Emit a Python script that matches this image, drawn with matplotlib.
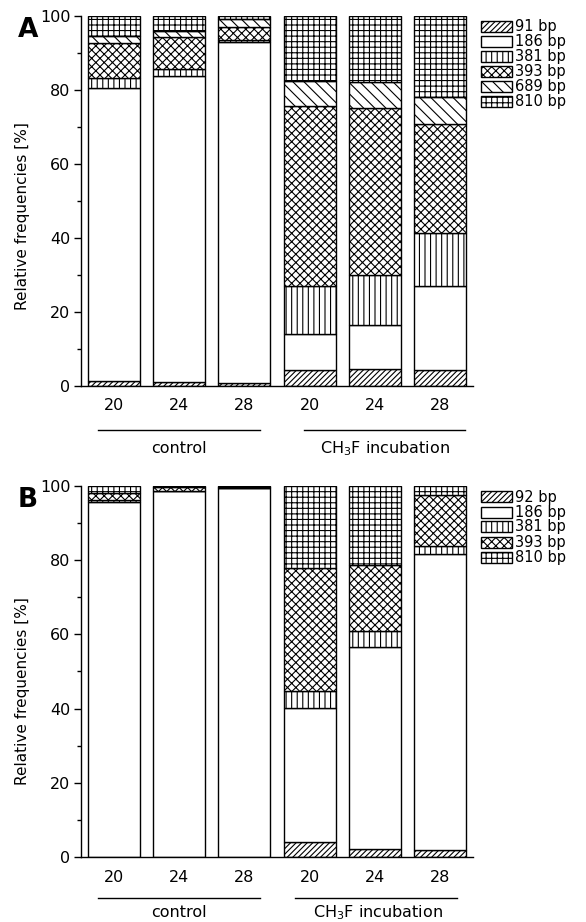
import matplotlib
matplotlib.use("Agg")
import matplotlib.pyplot as plt
from matplotlib.patches import Rectangle
from matplotlib.ticker import MultipleLocator
import numpy as np

plt.rcParams['font.family'] = ['DejaVu Sans']
plt.rcParams['mathtext.default'] = 'regular'
plt.rcParams['hatch.linewidth'] = 0.8

# ---- data ----
day_labels = ['20', '24', '28', '20', '24', '28']
group_labels = ['control', 'CH$_3$F incubation']

# Panel A fragment sizes
a_labels = ['91 bp', '186 bp', '381 bp', '393 bp', '689 bp', '810 bp']
a_91 = [1.3, 1.2, 0.7, 4.3, 4.5, 4.3]
a_186 = [79.3, 82.6, 92.3, 9.8, 11.9, 22.7]
a_381 = [2.5, 1.7, 0.4, 12.9, 13.7, 14.4]
a_393 = [9.4, 8.7, 3.6, 48.7, 44.9, 29.3]
a_689 = [2.0, 1.7, 2.0, 6.7, 7.2, 7.4]
a_810 = [5.5, 4.1, 1.0, 17.6, 17.8, 21.9]

# Panel B fragment sizes
b_labels = ['92 bp', '186 bp', '381 bp', '393 bp', '810 bp']
b_92 = [0.0, 0.0, 0.0, 4.0, 2.2, 1.9]
b_186 = [95.6, 98.7, 99.3, 36.2, 54.5, 79.7]
b_381 = [0.6, 0.0, 0.0, 4.6, 4.2, 2.2]
b_393 = [1.9, 1.0, 0.4, 33.0, 17.8, 13.7]
b_810 = [1.9, 0.3, 0.3, 22.2, 21.3, 2.5]

hatch_91 = '//////'
hatch_186 = ''
hatch_381 = '|||'
hatch_393 = 'xxxx'
hatch_689 = '\\\\\\'
hatch_810 = '+++'

a_series = [a_91, a_186, a_381, a_393, a_689, a_810]
a_hatches = [hatch_91, hatch_186, hatch_381, hatch_393, hatch_689, hatch_810]
b_series = [b_92, b_186, b_381, b_393, b_810]
b_hatches = [hatch_91, hatch_186, hatch_381, hatch_393, hatch_810]

W, H = 586, 922
fig = plt.figure(figsize=(W / 100, H / 100), dpi=100)


def fx(px):
    return px / W


def fy(py):
    return 1 - py / H


def draw_panel(ax, series, hatches):
    x = np.arange(len(day_labels))
    bottom = np.zeros(len(day_labels))
    for vals, h in zip(series, hatches):
        vals = np.asarray(vals)
        ax.bar(x, vals, width=0.8, bottom=bottom, color='white',
               edgecolor='black', linewidth=1.0, hatch=h)
        bottom += vals
    ax.set_xlim(-0.5, 5.5)
    ax.set_ylim(0, 100)
    ax.set_xticks(x)
    ax.set_xticklabels(day_labels, fontsize=11.5)
    ax.tick_params(axis='x', length=0, pad=9)
    ax.set_yticks(np.arange(0, 101, 20))
    ax.yaxis.set_minor_locator(MultipleLocator(10))
    ax.tick_params(axis='y', which='major', length=5, width=1.0, labelsize=11.5, pad=2.5)
    ax.tick_params(axis='y', which='minor', length=3, width=1.0)
    for s in ['top', 'right']:
        ax.spines[s].set_visible(False)
    for s in ['left', 'bottom']:
        ax.spines[s].set_linewidth(1.0)


def group_marks(ax, spans, centers, line_y, text_y):
    tr = ax.get_xaxis_transform()
    for (x0, x1), xc, lab in zip(spans, centers, group_labels):
        ax.plot([x0, x1], [line_y, line_y], color='black', lw=1.0,
                transform=tr, clip_on=False)
        ax.text(xc, text_y, lab, transform=tr, ha='center', va='center',
                fontsize=11.5)


def manual_legend(labels, hatches, top_center, step):
    for i, (lab, h) in enumerate(zip(labels, hatches)):
        cy = top_center + i * step
        r = Rectangle((fx(481), fy(cy + 5.5)), fx(512) - fx(481),
                      fy(cy - 5.5) - fy(cy + 5.5), transform=fig.transFigure,
                      facecolor='white', edgecolor='black', linewidth=1.0,
                      hatch=h)
        fig.add_artist(r)
        fig.text(fx(515), fy(cy), lab, ha='left', va='center', fontsize=10.5)


# Panel A
axA = fig.add_axes([fx(81), fy(386), fx(473) - fx(81), fy(15.7) - fy(386)])
draw_panel(axA, a_series, a_hatches)
group_marks(axA, [(-0.24, 2.24), (2.91, 5.38)], [1.0, 4.15], -0.119, -0.170)
manual_legend(a_labels, a_hatches, 26.5, 15.0)

# Panel B
axB = fig.add_axes([fx(81), fy(857.2), fx(473) - fx(81), fy(485.7) - fy(857.2)])
draw_panel(axB, b_series, b_hatches)
group_marks(axB, [(-0.24, 2.24), (2.78, 5.25)], [1.0, 4.05], -0.110, -0.148)
manual_legend(b_labels, b_hatches, 497.0, 15.0)

for ycen in (216, 691):
    fig.text(fx(22), fy(ycen), 'Relative frequencies [%]', rotation=90,
             ha='center', va='center', fontsize=11)

fig.text(fx(18), fy(37), 'A', fontsize=19, fontweight='bold', ha='left', va='baseline')
fig.text(fx(18), fy(506.7), 'B', fontsize=19, fontweight='bold', ha='left', va='baseline')

fig.savefig('out.png', dpi=100)
